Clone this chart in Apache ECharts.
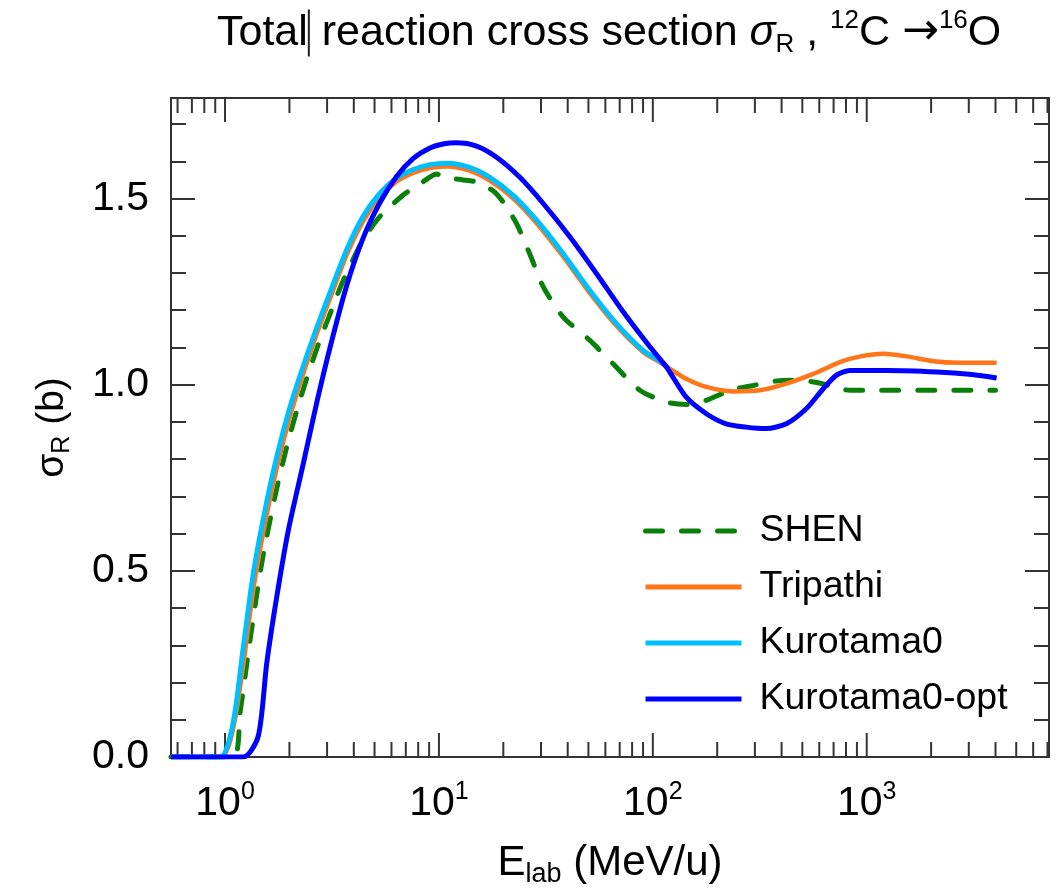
<!DOCTYPE html>
<html><head><meta charset="utf-8">
<script src="https://cdn.jsdelivr.net/npm/echarts@6/dist/echarts.min.js"></script>
<style>html,body{margin:0;padding:0;background:#fff}#c{width:1056px;height:888px}</style>
</head><body><div id="c"></div>
<script>
// ---- data (E in MeV/u, sigma in b) ----
const shenE = [0.559, 1.09, 1.175, 1.309, 1.484, 1.712, 1.977, 2.322, 2.73, 3.21, 3.57, 4.43, 5.31, 6.83, 8.48, 9.76, 10.5, 13.0, 15.0, 17.9, 20.0, 23.1, 26.6, 30.8, 38.2, 50.8, 65.2, 87.0, 116, 143, 178, 230, 295, 378, 484, 607, 697, 833, 4000];
const shenS = [0, 0, 0.118, 0.314, 0.52, 0.70, 0.85, 0.988, 1.108, 1.213, 1.28, 1.39, 1.452, 1.51, 1.546, 1.566, 1.557, 1.55, 1.544, 1.521, 1.49, 1.432, 1.351, 1.262, 1.181, 1.119, 1.056, 0.985, 0.953, 0.947, 0.958, 0.985, 0.998, 1.01, 1.012, 1.004, 0.994, 0.985, 0.985];
const tripE = [0.559, 0.96, 1.086, 1.218, 1.356, 1.538, 1.745, 2.013, 2.322, 2.68, 3.098, 3.70, 4.43, 5.31, 6.35, 7.59, 9.09, 10.9, 13.9, 17.3, 22.3, 28.7, 38.2, 50.8, 67.6, 90.0, 108, 120, 143, 178, 237, 316, 421, 563, 755, 933, 1201, 1540, 2049, 2709, 4049];
const tripS = [0, 0, 0.07, 0.25, 0.45, 0.628, 0.776, 0.915, 1.03, 1.135, 1.232, 1.348, 1.44, 1.505, 1.546, 1.569, 1.582, 1.586, 1.575, 1.548, 1.5, 1.433, 1.343, 1.246, 1.158, 1.088, 1.06, 1.043, 1.016, 0.994, 0.982, 0.985, 1.003, 1.029, 1.061, 1.076, 1.083, 1.076, 1.063, 1.059, 1.059];
const k0E = [0.559, 0.947, 1.086, 1.218, 1.356, 1.538, 1.745, 2.013, 2.322, 2.68, 3.098, 3.70, 4.43, 5.31, 6.35, 7.59, 9.09, 10.9, 13.9, 17.3, 22.3, 28.7, 38.2, 50.8, 67.6, 90.0, 108, 118];
const k0S = [0, 0, 0.086, 0.296, 0.493, 0.663, 0.806, 0.94, 1.05, 1.152, 1.248, 1.362, 1.453, 1.515, 1.555, 1.578, 1.591, 1.595, 1.584, 1.557, 1.508, 1.441, 1.351, 1.253, 1.164, 1.092, 1.063, 1.045];
const k0optE = [0.559, 1.218, 1.43, 1.566, 1.745, 1.977, 2.322, 2.68, 3.098, 3.70, 4.43, 5.31, 6.35, 7.59, 9.09, 10.6, 12.0, 15.0, 18.6, 23.9, 30.8, 41.1, 54.6, 72.8, 97.1, 116, 143, 178, 220, 273, 339, 421, 523, 626, 720, 833, 1243, 2134, 3012, 4049];
const k0optS = [0, 0, 0.056, 0.251, 0.43, 0.609, 0.788, 0.95, 1.10, 1.265, 1.395, 1.49, 1.56, 1.608, 1.636, 1.647, 1.650, 1.641, 1.611, 1.557, 1.486, 1.396, 1.298, 1.195, 1.101, 1.047, 0.967, 0.922, 0.895, 0.886, 0.882, 0.895, 0.936, 0.989, 1.025, 1.038, 1.038, 1.034, 1.028, 1.018];
const seriesNames = ['SHEN', 'Tripathi', 'Kurotama0', 'Kurotama0-opt'];
const xMin = 0.559, xMax = 7115, yMin = 0, yMax = 1.77;
const majorTicksE = [1, 10, 100, 1000];
const minorTicksE = [0.6, 0.7, 0.8, 0.9, 2, 3, 4, 5, 6, 7, 8, 9, 20, 30, 40, 50, 60, 70, 80, 90, 200, 300, 400, 500, 600, 700, 800, 900, 2000, 3000, 4000, 5000, 6000, 7000];

const FONT = "'Liberation Sans', Arial, Helvetica, sans-serif";
const AX = '#333';
function pairs(E, S) { return E.map((e, i) => [e, S[i]]); }

const chart = echarts.init(document.getElementById('c'), null, { renderer: 'canvas' });

function xAxisCfg(pos, showLabel) {
  return {
    type: 'log', logBase: 10, min: xMin, max: xMax, position: pos,
    axisLine: { show: true, onZero: false, lineStyle: { color: AX, width: 2 } },
    axisTick: { show: false },
    minorTick: { show: false },
    splitLine: { show: false },
    axisLabel: {
      show: showLabel, margin: 23, showMinLabel: false, showMaxLabel: false, hideOverlap: false,
      fontFamily: FONT, fontSize: 41, color: '#000',
      formatter: function (v) {
        const l = Math.log10(v), r = Math.round(l);
        if (Math.abs(l - r) > 1e-6) return '';
        return '{b|10}{s|' + r + '}';
      },
      rich: {
        b: { fontFamily: FONT, fontSize: 41, lineHeight: 48, color: '#000' },
        s: { fontFamily: FONT, fontSize: 25, lineHeight: 25, verticalAlign: 'top', color: '#000' }
      }
    }
  };
}
function yAxisCfg(pos, showLabel) {
  return {
    type: 'value', min: yMin, max: yMax, interval: 0.5, position: pos,
    axisLine: { show: true, onZero: false, lineStyle: { color: AX, width: 2 } },
    axisTick: { show: true, inside: true, length: 24, lineStyle: { color: AX, width: 2 } },
    minorTick: { show: true, splitNumber: 5, length: 15, lineStyle: { color: AX, width: 2 } },
    splitLine: { show: false },
    axisLabel: {
      show: showLabel, margin: 22, showMaxLabel: false,
      fontFamily: FONT, fontSize: 41, color: '#000',
      formatter: function (v) { return v.toFixed(1); }
    }
  };
}
function tickSeries(name, values, len) {
  return {
    name: name, type: 'custom', silent: true, clip: false, z: 1,
    data: values.map(e => [e, yMin]),
    encode: { x: 0, y: 1 },
    renderItem: function (params, api) {
      const v = api.value(0);
      const pb = api.coord([v, yMin]);
      const pt = api.coord([v, yMax]);
      const st = { stroke: AX, lineWidth: 2 };
      return { type: 'group', children: [
        { type: 'line', shape: { x1: pb[0], y1: pb[1], x2: pb[0], y2: pb[1] - len }, style: st },
        { type: 'line', shape: { x1: pt[0], y1: pt[1], x2: pt[0], y2: pt[1] + len }, style: st }
      ] };
    }
  };
}

const xb = xAxisCfg('bottom', true);
xb.name = 'E{s|lab} (MeV/u)';
xb.nameLocation = 'middle';
xb.nameGap = 81;
xb.nameTextStyle = {
  fontFamily: FONT, fontSize: 42, color: '#000', lineHeight: 50,
  rich: { s: { fontFamily: FONT, fontSize: 27, lineHeight: 27, verticalAlign: 'bottom', color: '#000' } }
};
const yl = yAxisCfg('left', true);
yl.name = '{g|σ}{s|R} (b)';
yl.nameLocation = 'middle';
yl.nameGap = 96;
yl.nameTextStyle = {
  fontFamily: FONT, fontSize: 39, color: '#000', lineHeight: 46,
  rich: {
    g: { fontFamily: FONT, fontSize: 39, lineHeight: 46, color: '#000' },
    s: { fontFamily: FONT, fontSize: 25, lineHeight: 25, verticalAlign: 'bottom', color: '#000' }
  }
};

const lineColors = ['#0a800a', '#ff7518', '#00bfff', '#0000ff'];

const option = {
  animation: false,
  backgroundColor: '#fff',
  title: {
    text: 'Total{bar| } reaction cross section {gi|σ}{sub|R} , {sup|12}C {ar|→}{sup|16}O',
    left: 217, top: 8, padding: 0,
    textStyle: {
      fontFamily: FONT, fontSize: 43, fontWeight: 'normal', color: '#000', lineHeight: 50,
      rich: {
        bar: { width: 2, height: 47, lineHeight: 50, verticalAlign: 'middle', backgroundColor: '#222', fontSize: 10 },
        gi: { fontFamily: FONT, fontSize: 43, lineHeight: 50, fontStyle: 'italic', color: '#000' },
        ar: { fontFamily: "'DejaVu Sans', sans-serif", fontSize: 44, lineHeight: 50, color: '#000' },
        sub: { fontFamily: FONT, fontSize: 26, lineHeight: 26, verticalAlign: 'bottom', color: '#000' },
        sup: { fontFamily: FONT, fontSize: 26, lineHeight: 26, verticalAlign: 'top', color: '#000' }
      }
    }
  },
  grid: { left: 171, right: 7, top: 98, bottom: 131, containLabel: false, outerBoundsMode: 'none' },
  legend: {
    data: seriesNames, orient: 'vertical', left: 638, top: 507,
    itemWidth: 96, itemHeight: 14, itemGap: 18,
    itemStyle: { opacity: 0 },
    lineStyle: { width: 5 },
    textStyle: { fontFamily: FONT, fontSize: 37.5, color: '#000', padding: [0, 0, 0, 13] }
  },
  xAxis: [xb, xAxisCfg('top', false)],
  yAxis: [yl, yAxisCfg('right', false)],
  series: [
    { name: 'SHEN', type: 'line', data: pairs(shenE, shenS), symbol: 'none', smooth: 0.25,
      lineStyle: { color: lineColors[0], width: 5, type: [17, 19], cap: 'round' }, itemStyle: { color: lineColors[0] } },
    { name: 'Tripathi', type: 'line', data: pairs(tripE, tripS), symbol: 'none', smooth: 0.25,
      lineStyle: { color: lineColors[1], width: 4.5 }, itemStyle: { color: lineColors[1] } },
    { name: 'Kurotama0', type: 'line', data: pairs(k0E, k0S), symbol: 'none', smooth: 0.25,
      lineStyle: { color: lineColors[2], width: 5 }, itemStyle: { color: lineColors[2] } },
    { name: 'Kurotama0-opt', type: 'line', data: pairs(k0optE, k0optS), symbol: 'none', smooth: 0.25,
      lineStyle: { color: lineColors[3], width: 5 }, itemStyle: { color: lineColors[3] } },
    tickSeries('majorTicks', majorTicksE, 24),
    tickSeries('minorTicks', minorTicksE, 15)
  ]
};
chart.setOption(option);
</script>
</body></html>
